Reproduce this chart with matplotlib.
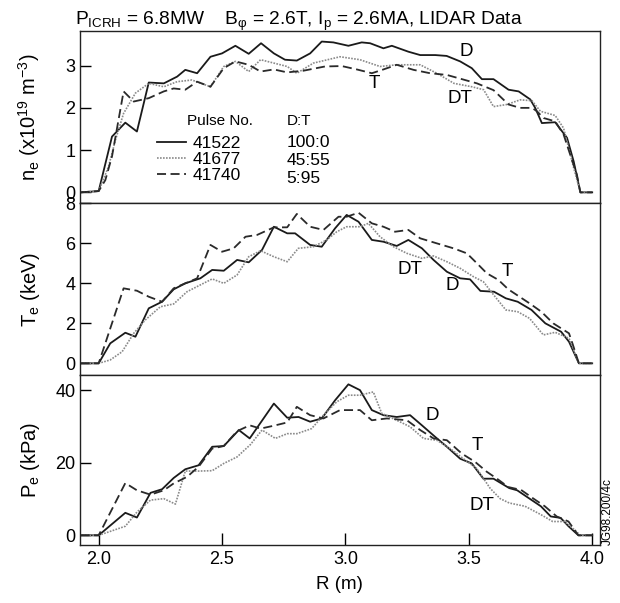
import matplotlib
matplotlib.use("Agg")
import matplotlib.pyplot as plt
from matplotlib.lines import Line2D

plt.rcParams['font.family'] = ['Liberation Sans', 'DejaVu Sans']
plt.rcParams['mathtext.fontset'] = 'custom'
plt.rcParams['mathtext.rm'] = 'Liberation Sans'
plt.rcParams['mathtext.it'] = 'Liberation Sans'
plt.rcParams['mathtext.default'] = 'regular'

# --- electron density n_e (1e19 m^-3) ---
ne_D_r = [1.926, 2.0, 2.054, 2.108, 2.155, 2.203, 2.264, 2.318, 2.351, 2.399, 2.453, 2.50, 2.554, 2.608,
          2.658, 2.71, 2.755, 2.803, 2.857, 2.904, 2.951, 3.012, 3.066, 3.10, 3.154, 3.188, 3.255, 3.303,
          3.364, 3.41, 3.465, 3.512, 3.553, 3.60, 3.661, 3.702, 3.749, 3.769, 3.796, 3.85, 3.898, 3.925,
          3.952, 4.0]
ne_D = [0, 0.03, 1.32, 1.65, 1.44, 2.60, 2.58, 2.74, 2.90, 2.82, 3.21, 3.29, 3.47, 3.28,
        3.53, 3.29, 3.14, 3.12, 3.29, 3.57, 3.55, 3.47, 3.55, 3.53, 3.41, 3.47, 3.33, 3.25,
        3.25, 3.23, 3.10, 2.94, 2.68, 2.68, 2.43, 2.39, 2.20, 2.0, 1.64, 1.66, 1.29, 0.73,
        0, 0]
ne_DT_r = [1.926, 2.0, 2.04, 2.068, 2.101, 2.149, 2.203, 2.264, 2.318, 2.378, 2.453, 2.507, 2.554, 2.608,
           2.656, 2.71, 2.764, 2.803, 2.87, 2.978, 3.059, 3.14, 3.208, 3.303, 3.37, 3.44, 3.512, 3.56,
           3.60, 3.654, 3.708, 3.756, 3.79, 3.85, 3.884, 3.925, 3.952, 4.0]
ne_DT = [0, 0.03, 0.61, 1.24, 1.87, 2.35, 2.58, 2.50, 2.62, 2.66, 2.50, 2.98, 3.10, 2.86,
         3.14, 3.06, 2.98, 2.82, 3.06, 3.21, 3.14, 2.98, 3.02, 3.02, 2.82, 2.58, 2.50, 2.43,
         2.03, 2.08, 2.19, 2.17, 1.92, 1.82, 1.52, 0.58, 0, 0]
ne_T_r = [1.926, 2.0, 2.027, 2.054, 2.101, 2.142, 2.203, 2.264, 2.304, 2.351, 2.399, 2.453, 2.507, 2.554,
          2.608, 2.656, 2.71, 2.764, 2.83, 2.917, 2.985, 3.046, 3.107, 3.154, 3.208, 3.276, 3.343, 3.411,
          3.472, 3.533, 3.60, 3.661, 3.708, 3.756, 3.776, 3.803, 3.85, 3.884, 3.911, 3.938, 3.952, 4.0]
ne_T = [0, 0.03, 0.29, 0.85, 2.39, 2.15, 2.23, 2.39, 2.46, 2.43, 2.62, 2.50, 2.94, 3.10,
        3.02, 2.86, 2.91, 2.84, 2.88, 2.98, 2.99, 2.91, 2.82, 2.91, 3.02, 2.90, 2.82, 2.78,
        2.68, 2.58, 2.42, 2.08, 2.0, 2.0, 1.92, 1.76, 1.68, 1.37, 0.89, 0.42, 0, 0]

# --- electron temperature T_e (keV) ---
te_D_r = [1.926, 2.0, 2.047, 2.108, 2.149, 2.203, 2.257, 2.304, 2.351, 2.412, 2.46, 2.507, 2.561, 2.608,
          2.662, 2.71, 2.764, 2.796, 2.857, 2.904, 2.958, 3.005, 3.053, 3.107, 3.154, 3.208, 3.255, 3.31,
          3.357, 3.411, 3.465, 3.505, 3.547, 3.602, 3.65, 3.698, 3.754, 3.81, 3.874, 3.906, 3.946, 4.0]
te_D = [0, 0, 1.0, 1.53, 1.33, 2.75, 3.08, 3.70, 4.0, 4.25, 4.67, 4.63, 5.17, 5.05,
        5.67, 6.83, 6.50, 6.50, 5.92, 5.83, 6.75, 7.42, 7.08, 6.17, 6.08, 5.87, 6.17, 5.75,
        5.17, 4.58, 4.25, 4.20, 3.62, 3.58, 3.25, 3.08, 2.67, 2.0, 1.58, 1.08, 0, 0]
te_DT_r = [1.926, 2.0, 2.047, 2.095, 2.142, 2.189, 2.25, 2.304, 2.358, 2.412, 2.46, 2.507, 2.561, 2.608,
           2.656, 2.71, 2.764, 2.809, 2.87, 2.924, 2.965, 3.005, 3.059, 3.093, 3.14, 3.195, 3.249, 3.31,
           3.357, 3.411, 3.465, 3.519, 3.559, 3.602, 3.65, 3.698, 3.746, 3.802, 3.85, 3.906, 3.946, 4.0]
te_DT = [0, 0, 0.17, 0.58, 1.5, 2.17, 2.83, 2.97, 3.58, 3.92, 4.22, 4.0, 4.42, 5.33,
         5.63, 5.33, 5.08, 5.75, 5.83, 6.17, 6.58, 6.83, 6.83, 7.0, 6.33, 5.83, 5.5, 5.25,
         5.37, 5.08, 4.75, 4.33, 4.08, 3.4, 2.67, 2.58, 2.25, 1.42, 1.55, 1.25, 0, 0]
te_T_r = [1.926, 2.0, 2.101, 2.155, 2.203, 2.257, 2.304, 2.351, 2.399, 2.453, 2.50, 2.547, 2.595, 2.642,
          2.71, 2.764, 2.803, 2.857, 2.911, 2.972, 3.005, 3.053, 3.107, 3.154, 3.201, 3.255, 3.303, 3.37,
          3.438, 3.492, 3.533, 3.573, 3.62, 3.66, 3.746, 3.794, 3.842, 3.906, 3.922, 3.946, 4.0]
te_T = [0, 0, 3.75, 3.63, 3.33, 3.08, 3.75, 4.0, 4.25, 5.92, 5.58, 5.75, 6.33, 6.42,
        6.80, 6.80, 7.47, 6.83, 6.67, 7.33, 7.33, 7.53, 7.0, 6.83, 6.58, 6.67, 6.25, 6.0,
        5.75, 5.5, 5.0, 4.5, 4.17, 3.7, 3.0, 2.58, 2.0, 1.5, 0.92, 0, 0]

# --- electron pressure P_e (kPa) ---
pe_D_r = [1.926, 2.0, 2.108, 2.155, 2.21, 2.257, 2.304, 2.351, 2.405, 2.46, 2.507, 2.568, 2.612, 2.71,
          2.764, 2.81, 2.857, 2.904, 2.958, 3.012, 3.059, 3.107, 3.154, 3.208, 3.262, 3.31, 3.364, 3.411,
          3.465, 3.512, 3.559, 3.60, 3.664, 3.696, 3.744, 3.792, 3.832, 3.872, 3.904, 3.944, 4.0]
pe_D = [0, 0, 6.2, 4.9, 11.7, 12.7, 15.8, 18.2, 19.3, 24.4, 24.6, 29.0, 26.7, 36.3,
        32.4, 32.6, 31.3, 32.2, 37.2, 41.6, 40.0, 34.5, 33.1, 32.6, 33.1, 30.3, 27.1, 24.4,
        21.1, 19.8, 15.6, 15.6, 13.0, 12.4, 10.2, 8.0, 5.2, 4.8, 2.5, 0, 0]
pe_DT_r = [1.926, 2.0, 2.108, 2.155, 2.21, 2.264, 2.311, 2.351, 2.405, 2.46, 2.507, 2.561, 2.615, 2.662,
           2.716, 2.764, 2.803, 2.863, 2.911, 2.965, 3.012, 3.059, 3.113, 3.147, 3.208, 3.262, 3.316, 3.37,
           3.424, 3.478, 3.532, 3.587, 3.627, 3.664, 3.728, 3.792, 3.84, 3.888, 3.92, 3.952, 4.0]
pe_DT = [0, 0, 2.5, 6.4, 9.7, 10.1, 8.6, 17.7, 17.7, 17.8, 19.8, 21.6, 25.0, 29.0,
         26.7, 28.0, 28.0, 29.4, 33.1, 36.8, 38.6, 38.6, 39.5, 33.6, 31.7, 29.9, 26.7, 26.2,
         23.9, 21.1, 18.4, 12.9, 10.1, 8.9, 8.0, 5.7, 3.8, 3.8, 2.0, 0, 0]
pe_T_r = [1.926, 2.0, 2.108, 2.155, 2.21, 2.264, 2.304, 2.358, 2.405, 2.46, 2.507, 2.561, 2.612, 2.656,
          2.71, 2.764, 2.803, 2.857, 2.911, 2.978, 3.059, 3.107, 3.168, 3.249, 3.303, 3.357, 3.411, 3.472,
          3.526, 3.573, 3.614, 3.66, 3.712, 3.76, 3.808, 3.856, 3.904, 3.944, 4.0]
pe_T = [0, 0, 14.4, 12.4, 11.2, 12.4, 14.3, 16.1, 18.9, 23.9, 24.6, 28.7, 30.3, 29.4,
        30.2, 31.1, 35.4, 33.1, 32.2, 34.5, 34.5, 31.7, 32.2, 31.7, 29.0, 26.7, 26.2, 22.5,
        20.2, 17.5, 15.6, 13.3, 12.5, 10.2, 8.0, 5.2, 3.8, 0, 0]

pulses = ["41522", "41677", "41740"]
ratios = ["100:0", "45:55", "5:95"]

styles = {
    "D": dict(color="#1a1a1a", lw=1.3, ls="-"),
    "DT": dict(color="#8a8a8a", lw=1.2, ls=(0, (1, 0.8))),
    "T": dict(color="#2a2a2a", lw=1.3, ls=(0, (5, 2.5))),
}

fig = plt.figure(figsize=(6.2, 6.03), dpi=100)
left, width = 0.1285, 0.839
ax1 = fig.add_axes([left, 0.6628, width, 0.2858])
ax2 = fig.add_axes([left, 0.3789, width, 0.2839])
ax3 = fig.add_axes([left, 0.0954, width, 0.2835])

panels = [
    (ax1, [(ne_D_r, ne_D, "D"), (ne_DT_r, ne_DT, "DT"), (ne_T_r, ne_T, "T")]),
    (ax2, [(te_D_r, te_D, "D"), (te_DT_r, te_DT, "DT"), (te_T_r, te_T, "T")]),
    (ax3, [(pe_D_r, pe_D, "D"), (pe_DT_r, pe_DT, "DT"), (pe_T_r, pe_T, "T")]),
]
for ax, series in panels:
    for r, v, key in series:
        ax.plot(r, v, **styles[key])
    ax.set_xlim(1.923, 4.031)
    for s in ax.spines.values():
        s.set_linewidth(1.0)
        s.set_color("#222")
    ax.tick_params(axis="y", direction="in", length=8, width=1, labelsize=13, pad=3, left=True, right=False)
    ax.tick_params(axis="x", direction="in", length=9, width=1, labelsize=13, pad=4, top=False)

ax1.set_ylim(-0.26, 3.82)
ax1.set_yticks([0, 1, 2, 3])
ax1.set_xticks([])
ax2.set_ylim(-0.56, 8.0)
ax2.set_yticks([0, 2, 4, 6, 8])
ax2.set_xticks([])
ax3.set_ylim(-2.8, 44.3)
ax3.set_yticks([0, 20, 40])
ax3.set_xticks([2.0, 2.5, 3.0, 3.5, 4.0])
ax3.set_xticklabels(["2.0", "2.5", "3.0", "3.5", "4.0"])

ax1.set_ylabel("$n_e$ (x10$^{19}$ m$^{-3}$)", fontsize=14.5)
ax2.set_ylabel("$T_e$ (keV)", fontsize=14.5)
ax3.set_ylabel("$P_e$ (kPa)", fontsize=14.5)
for ax in (ax1, ax2, ax3):
    ax.yaxis.set_label_coords(-0.072, 0.5)
ax3.set_xlabel("R (m)", fontsize=13.5, labelpad=6)

# curve labels
ax1.text(3.49, 3.33, "D", fontsize=13.5, ha="center", va="center")
ax1.text(3.115, 2.58, "T", fontsize=13.5, ha="center", va="center")
ax1.text(3.465, 2.23, "DT", fontsize=13.5, ha="center", va="center")
ax2.text(3.262, 4.67, "DT", fontsize=13.5, ha="center", va="center")
ax2.text(3.431, 3.87, "D", fontsize=13.5, ha="center", va="center")
ax2.text(3.655, 4.58, "T", fontsize=13.5, ha="center", va="center")
ax3.text(3.35, 33.1, "D", fontsize=13.5, ha="center", va="center")
ax3.text(3.533, 24.8, "T", fontsize=13.5, ha="center", va="center")
ax3.text(3.553, 8.3, "DT", fontsize=13.5, ha="center", va="center")

# legend
handles = [Line2D([], [], **styles[k]) for k in ("D", "DT", "T")]
ax1.legend(handles, pulses, loc="upper left", bbox_to_anchor=(0.148, 0.392), frameon=False,
           fontsize=12.5, handlelength=1.7, handletextpad=0.4, labelspacing=0.05,
           borderpad=0, borderaxespad=0)
ax1.text(0.206, 0.478, "Pulse No.", transform=ax1.transAxes, fontsize=11, va="center")
ax1.text(0.398, 0.478, "D:T", transform=ax1.transAxes, fontsize=11, va="center")
for i, lab in enumerate(ratios):
    ax1.text(0.398, 0.352 - i * 0.104, lab, transform=ax1.transAxes, fontsize=12.5, va="center")

fig.text(75 / 620, 1 - 25 / 603,
         "$P_{ICRH}$ = 6.8MW    $B_{\u03c6}$ = 2.6T, $I_p$ = 2.6MA, LIDAR Data",
         fontsize=13.8, ha="left", va="baseline")
fig.text(608 / 620, 1 - 545 / 603, "JG98.200/4c", rotation=90, fontsize=8.5,
         ha="center", va="bottom")

fig.savefig("out.png", dpi=100)
